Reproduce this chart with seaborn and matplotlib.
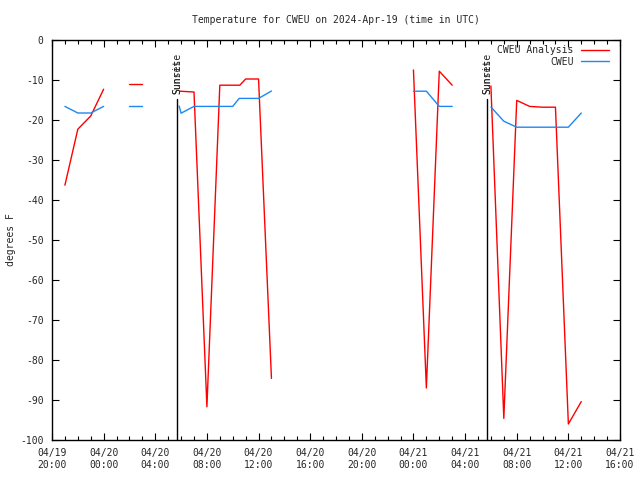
import numpy as np
import pandas as pd
import matplotlib
matplotlib.use('Agg')
import matplotlib.pyplot as plt
import seaborn as sns
from matplotlib.lines import Line2D

# hours since 04/19 20:00 UTC, NaN marks a gap in the record
analysis_hours = [1, 2, 3, 4, np.nan, 6, 7, np.nan,
                  9.9, 11, 12, 13, 14, 14.55, 15, 16, 17, np.nan,
                  28, 29, 30, 31, np.nan,
                  34, 35, 36, 37, 38, 39, 40, 41]
analysis_temp = [-36.3, -22.3, -19, -12.3, np.nan, -11, -11, np.nan,
                 -12.8, -13, -91.7, -11.3, -11.3, -11.3, -9.75, -9.75, -84.6, np.nan,
                 -7.5, -87, -7.8, -11.3, np.nan,
                 -11.5, -94.6, -15.1, -16.6, -16.8, -16.8, -96, -90.4]

obs_hours = [1, 2, 3, 4, np.nan, 6, 7, np.nan,
             9.85, 10, 11, 12, 13, 14, 14.5, 15, 16, 17, np.nan,
             28, 29, 30, 31, np.nan,
             34, 35, 36, 37, 38, 39, 40, 41]
obs_temp = [-16.6, -18.25, -18.25, -16.6, np.nan, -16.6, -16.6, np.nan,
            -16.5, -18.3, -16.6, -16.6, -16.6, -16.6, -14.6, -14.6, -14.6, -12.75, np.nan,
            -12.8, -12.8, -16.6, -16.6, np.nan,
            -16.75, -20.3, -21.8, -21.8, -21.8, -21.8, -21.8, -18.25]

sun_hours = [9.68, 33.72]
sun_labels = ['Sunset', 'Sunrise']
sun_top = -14.75

tick_hours = list(range(0, 45, 4))
tick_labels = ['04/19\n20:00', '04/20\n00:00', '04/20\n04:00', '04/20\n08:00',
               '04/20\n12:00', '04/20\n16:00', '04/20\n20:00', '04/21\n00:00',
               '04/21\n04:00', '04/21\n08:00', '04/21\n12:00', '04/21\n16:00']

sns.set_style('ticks')
plt.rcParams['font.family'] = ['DejaVu Sans Mono']
plt.rcParams['axes.unicode_minus'] = False

fig = plt.figure(figsize=(6.4, 4.8), dpi=100)
ax = fig.add_axes([52 / 640, 40 / 480, 568 / 640, 400 / 480])

red = '#ff0000'
blue = '#1e88f0'


def segments(hours, temps):
    df = pd.DataFrame({'hour': hours, 'temp': temps})
    df['seg'] = df['hour'].isna().cumsum()
    return [g for _, g in df.dropna().groupby('seg')]


for seg in segments(analysis_hours, analysis_temp):
    sns.lineplot(data=seg, x='hour', y='temp', color=red, lw=1, ax=ax)
for seg in segments(obs_hours, obs_temp):
    sns.lineplot(data=seg, x='hour', y='temp', color=blue, lw=1, ax=ax)

# sunset and sunrise marks (the two labels overprint each other)
for h in sun_hours:
    ax.plot([h, h], [-100, sun_top], color='black', lw=1)
    for lab in sun_labels:
        ax.text(h, sun_top + 1.2, lab, rotation=90, ha='center', va='bottom',
                fontsize=7)

ax.set_xlim(0, 44)
ax.set_ylim(-100, 0)
ax.set_xticks(tick_hours)
ax.set_xticklabels(tick_labels)
ax.set_xticks(range(0, 45), minor=True)
ax.set_yticks(range(-100, 1, 10))
ax.set_yticklabels([str(v) for v in range(-100, 1, 10)])
ax.tick_params(which='both', direction='in', top=True, right=True,
               labelsize=7, width=0.8, color='black')
ax.tick_params(which='major', length=5, pad=6)
ax.tick_params(which='minor', length=3)
for s in ax.spines.values():
    s.set_linewidth(1)
    s.set_color('black')

ax.set_xlabel('')
ax.set_ylabel('degrees F', fontsize=7, labelpad=3)
ax.set_title('Temperature for CWEU on 2024-Apr-19 (time in UTC)', fontsize=7, pad=12)

handles = [Line2D([0], [0], color=red, lw=1), Line2D([0], [0], color=blue, lw=1)]
ax.legend(handles, ['CWEU Analysis', 'CWEU'], loc='upper right',
          bbox_to_anchor=(0.987, 0.997), frameon=False,
          markerfirst=False, fontsize=7, handlelength=2.9, handletextpad=0.7,
          labelspacing=0.15, borderaxespad=0)

fig.savefig('out.png', dpi=100)
